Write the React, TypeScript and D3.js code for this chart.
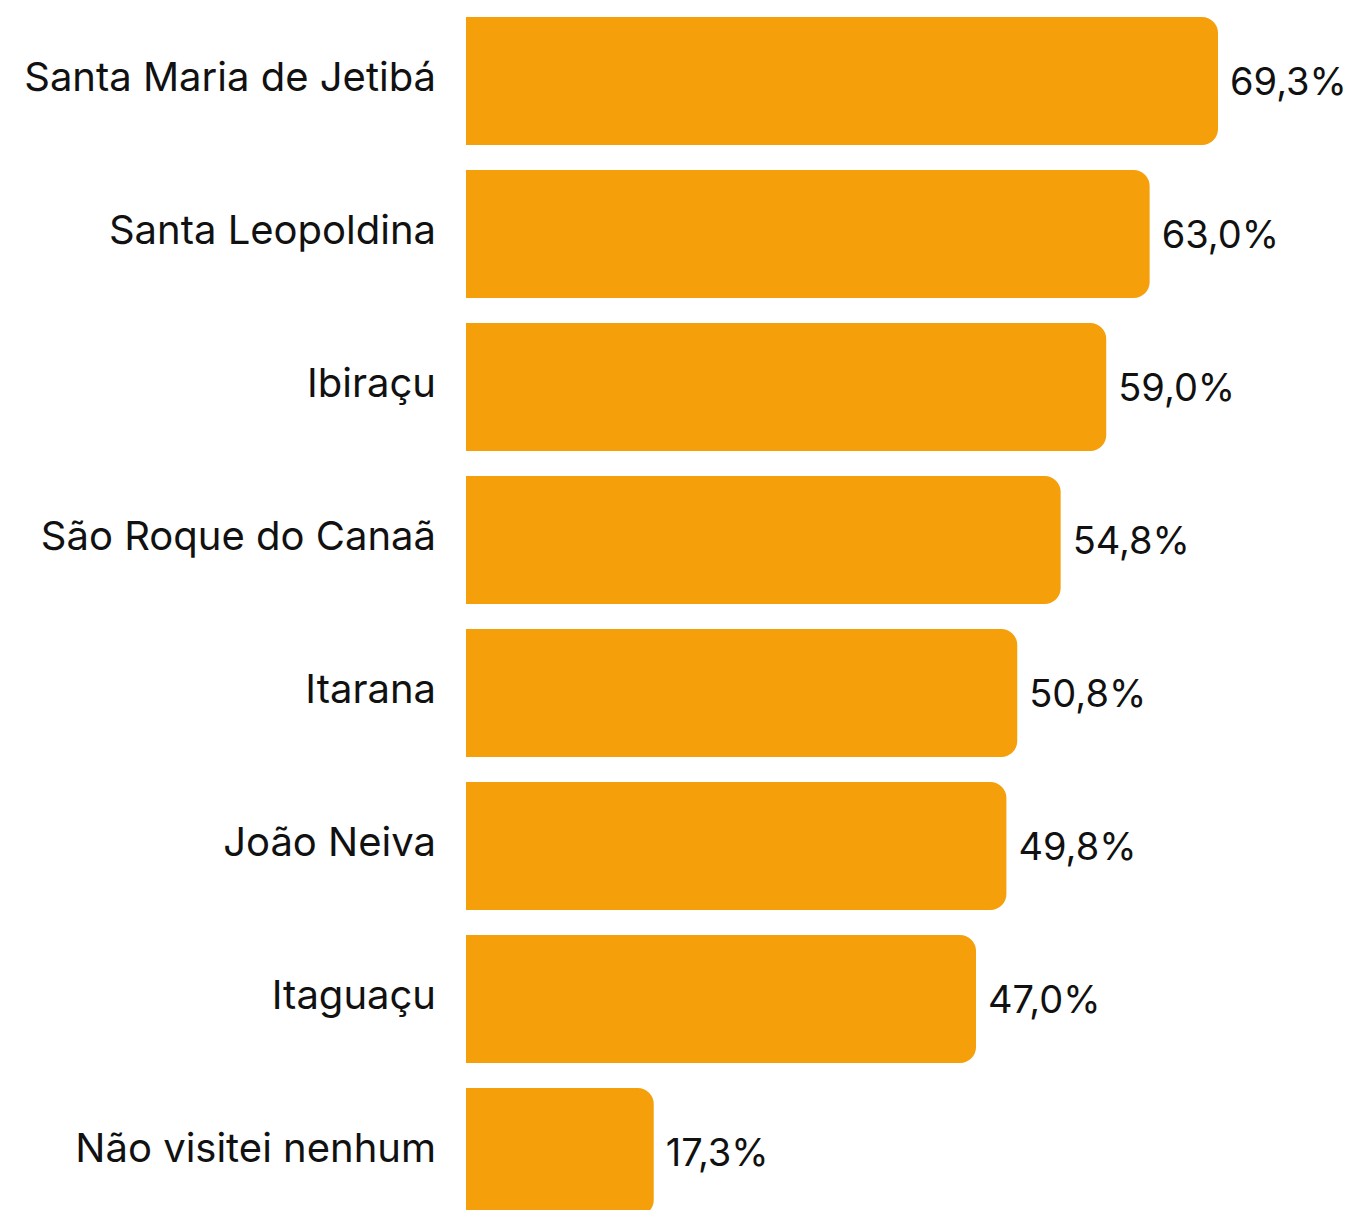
import React from 'react'
import * as d3 from 'd3'

const categories = [
  'Santa Maria de Jetibá',
  'Santa Leopoldina',
  'Ibiraçu',
  'São Roque do Canaã',
  'Itarana',
  'João Neiva',
  'Itaguaçu',
  'Não visitei nenhum',
]
const values = [69.3, 63.0, 59.0, 54.8, 50.8, 49.8, 47.0, 17.3]

const width = 1353
const height = 1240
const left = 466
const top = 17
const step = 153
const barH = 128
const r = 16

const x = d3.scaleLinear().domain([0, 69.3]).range([left, 1218])
const y = d3.scaleBand<string>()
  .domain(categories)
  .range([top - (step - barH) / 2, top - (step - barH) / 2 + step * categories.length])
  .paddingInner((step - barH) / step)
  .paddingOuter((step - barH) / step / 2)

const fmt = (v: number) => v.toFixed(1).replace('.', ',') + '%'

// rounded on the right side only
const barPath = (x0: number, x1: number, y0: number, h: number) => {
  const p = d3.path()
  p.moveTo(x0, y0)
  p.lineTo(x1 - r, y0)
  p.arcTo(x1, y0, x1, y0 + r, r)
  p.lineTo(x1, y0 + h - r)
  p.arcTo(x1, y0 + h, x1 - r, y0 + h, r)
  p.lineTo(x0, y0 + h)
  p.closePath()
  return p.toString()
}

const App = () => {
  return (
    <svg
      width={width}
      height={height}
      style={{ position: 'absolute', left: 0, top: 0, display: 'block' }}
      fontFamily="Inter, 'Noto Sans', sans-serif"
    >
      {categories.map((c, i) => {
        const y0 = y(c) as number
        const bh = y.bandwidth()
        const cy = y0 + bh / 2
        return (
          <g key={c}>
            <path d={barPath(x(0), x(values[i]), y0, bh)} fill="#F59F0B" />
            <text x={436} y={cy - 4} dy="0.36em" textAnchor="end" fontSize={40} fill="#111">
              {c}
            </text>
            <text x={x(values[i]) + 12} y={cy} dy="0.36em" fontSize={38} fill="#111">
              {fmt(values[i])}
            </text>
          </g>
        )
      })}
    </svg>
  )
}

export default App
